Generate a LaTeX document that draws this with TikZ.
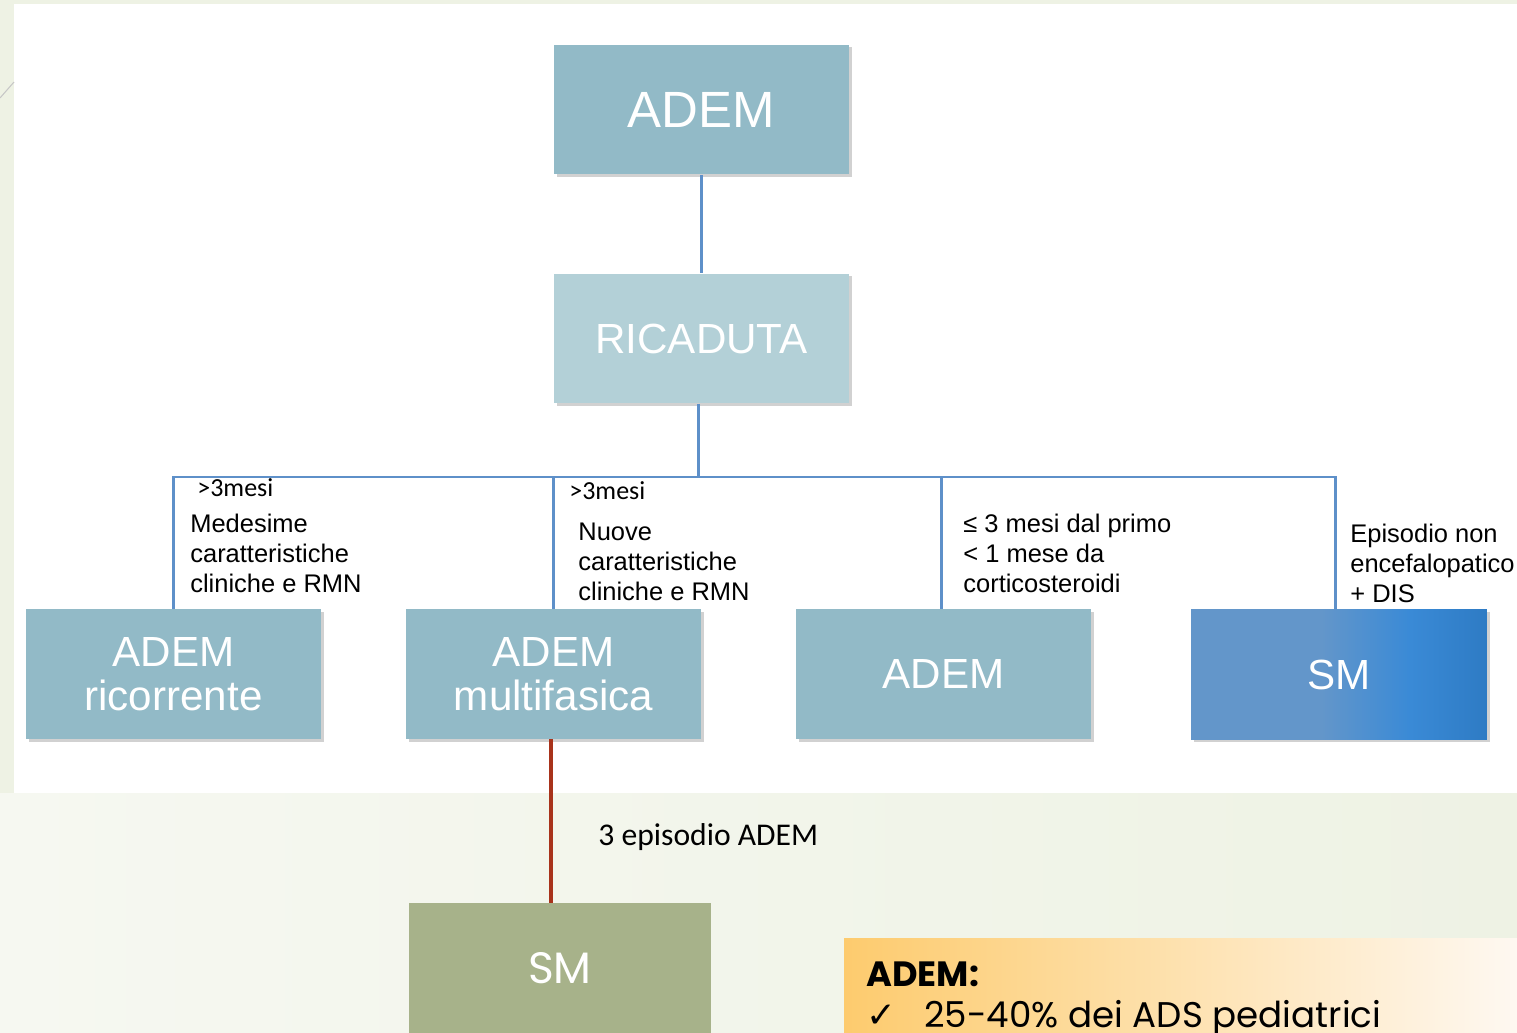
\documentclass[tikz,border=0pt]{standalone}
\usepackage{fontspec}
\setmainfont{Liberation Sans}
\newfontfamily\carl{Carlito}
\newfontfamily\popf{Poppins}
\newfontfamily\djv{DejaVu Sans}
\usetikzlibrary{shadows}
\definecolor{bgc}{HTML}{EEF2E4}
\definecolor{bgL}{HTML}{F6F8F1}
\definecolor{bgR}{HTML}{EEF2E4}
\definecolor{boxA}{HTML}{92BAC7}
\definecolor{boxR}{HTML}{B3D0D7}
\definecolor{lineB}{HTML}{5E90C9}
\definecolor{lineR}{HTML}{A8331B}
\definecolor{smA}{HTML}{6396CA}
\definecolor{smB}{HTML}{3A8AD6}
\definecolor{smC}{HTML}{2E7BC4}
\definecolor{smG}{HTML}{A7B28A}
\definecolor{noteL}{HTML}{FDCB6E}
\definecolor{noteR}{HTML}{FEF8F1}
\pgfdeclarehorizontalshading{smshade}{100bp}{color(0bp)=(smA); color(25bp)=(smA); color(47bp)=(smA); color(62bp)=(smB); color(75bp)=(smC); color(100bp)=(smC)}
\newcommand\mlines[1]{\begin{tabular}[t]{@{}l@{}}#1\end{tabular}}
\begin{document}
\begin{tikzpicture}[x=0.02cm,y=-0.02cm,
  box/.style={minimum width=5.9cm, minimum height=2.6cm, inner sep=0pt, text=white, align=center,
    drop shadow={shadow xshift=1.5pt, shadow yshift=-1.5pt, opacity=0.18, fill=black}},
  conn/.style={draw=lineB, line width=1.7pt},
  lbl/.style={inner sep=0pt, anchor=base west, font=\fontsize{14.5}{17.3}\selectfont},
  lblc/.style={inner sep=0pt, anchor=base west, font=\carl\fontsize{14.8}{17}\selectfont}]
\useasboundingbox (0,0) rectangle (1517,1033);
\fill[bgc] (0,0) rectangle (1517,1033);
\shade[left color=bgL, right color=bgR] (0,793) rectangle (1517,1033);
\fill[white] (14,4) rectangle (1517,793);
\draw[color=black!22, line width=0.6pt] (0,98) -- (14,82);

% boxes
\node[box, fill=boxA, font=\fontsize{29}{34}\selectfont] (top) at (701.5,109.5) {ADEM};
\node[box, fill=boxR, font=\fontsize{24}{28}\selectfont] (ric) at (701.5,338.5) {RICADUTA};
\node[box, fill=boxA, font=\fontsize{24}{25}\selectfont] (rec) at (173.5,674) {ADEM\\ricorrente};
\node[box, fill=boxA, font=\fontsize{24}{25}\selectfont] (mul) at (553.5,674) {ADEM\\multifasica};
\node[box, fill=boxA, font=\fontsize{24}{25}\selectfont] (ad3) at (943.5,674) {ADEM};
\node[box, minimum width=5.92cm, shading=smshade, font=\fontsize{24}{25}\selectfont] (sm1) at (1339,674.5) {SM};
\node[minimum width=6.04cm, minimum height=2.6cm, inner sep=0pt, fill=smG, text=white, font=\popf\fontsize{25}{28}\selectfont] (smg) at (560,968) {SM};

% connectors
\coordinate (bar) at (698,477);
\draw[conn] (top.south) -- (ric.north);
\draw[conn] (ric.south -| bar) -- (bar);
\draw[conn] (rec.north) -- (rec.north |- bar) -- ([xshift=-0.08cm]sm1.north |- bar) -- ([xshift=-0.08cm]sm1.north);
\draw[conn] (mul.north) -- (mul.north |- bar);
\draw[conn] ([xshift=-0.05cm]ad3.north) -- ([xshift=-0.05cm]ad3.north |- bar);
\draw[draw=lineR, line width=2.2pt] ([xshift=-0.05cm]mul.south) -- ([xshift=-0.05cm]mul.south |- smg.north);

% labels
\node[lblc] (l1a) at (197,496) {>3mesi};
\node[lbl] (l1b) at (190,532) {\mlines{Medesime\\caratteristiche\\cliniche e RMN}};
\node[lblc] (l2a) at (569,500) {>3mesi};
\node[lbl] (l2b) at (578,540) {\mlines{Nuove\\caratteristiche\\cliniche e RMN}};
\node[lbl] (l3) at (963,532) {\mlines{≤ 3 mesi dal primo\\< 1 mese da\\corticosteroidi}};
\node[lbl] (l4) at (1350,542) {\mlines{Episodio non\\encefalopatico\\+ DIS}};
\node[inner sep=0pt, anchor=base west, font=\carl\fontsize{18}{20}\selectfont] (ep) at (598,845) {3 episodio ADEM};

% note
\shade[left color=noteL, right color=noteR] (844,938) rectangle (1517,1033);
\node[inner sep=0pt, anchor=base west, font=\popf\bfseries\fontsize{20}{22}\selectfont] (n1) at (866,986) {ADEM:};
\node[inner sep=0pt, anchor=base west, font=\popf\fontsize{20.3}{24}\selectfont] (n2) at (866,1027) {\makebox[1.16cm][l]{\djv ✓}25-40\% dei ADS pediatrici};
\end{tikzpicture}
\end{document}
